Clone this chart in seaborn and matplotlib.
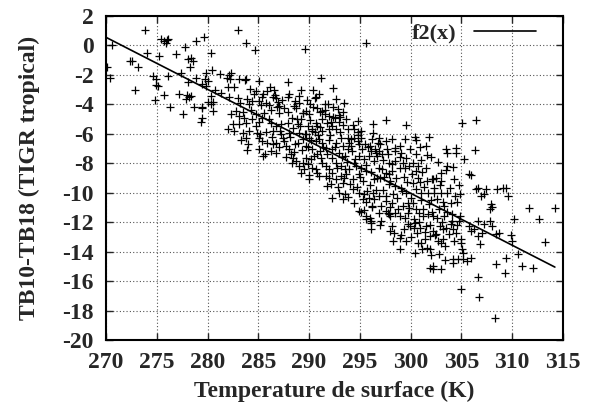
import matplotlib
matplotlib.use("Agg")
import matplotlib.pyplot as plt
import seaborn as sns
import pandas as pd

# ---- data ----
pts_left = [(273.87,1.03),(275.41,0.42),(275.7,0.3),(276.0,0.37),(276.1,0.42),(275.9,0.19),(278.9,0.30),(279.6,0.6),
    (270.56,0.0),(277.8,-0.1),(280.3,-0.49),(274.0,-0.49),(276.9,-0.56),(275.25,-0.74),(278.1,-0.9),(278.4,-0.83),
    (278.6,-1.05),(272.36,-1.05),(272.6,-1.08),(273.1,-1.44),(278.3,-1.44),(270.1,-1.46),(277.35,-1.85),(279.8,-1.85),
    (280.4,-1.69),(281.2,-1.96),(278.86,-2.19),(274.6,-2.07),(274.9,-2.25),(276.07,-2.07),(270.4,-2.19),(279.7,-2.25),
    (280.0,-2.41),(278.1,-2.46),(274.9,-2.68),(275.1,-2.75),(279.5,-2.64),(279.8,-2.75),(272.9,-3.02),(280.7,-3.02),
    (281.3,-3.2),(275.74,-3.34),(277.15,-3.3),(278.0,-3.39),(278.2,-3.48),(278.4,-3.43),(277.9,-3.61),(280.3,-3.43),
    (274.86,-3.73),(280.0,-3.84),(280.3,-3.95),(280.5,-3.84),(276.3,-4.15),(278.7,-4.15),(279.45,-4.15),(279.5,-4.27),
    (280.5,-4.45),(277.6,-4.65),(279.5,-4.92),(279.35,-5.2)]

pts_upper_mid = [(282.96,1.03),(283.78,0.19),(284.7,-0.33),(289.6,-0.26),(282.27,-1.85),(282.14,-2.03),(281.9,-2.19),
    (282.2,-2.3),(283.1,-2.3),(283.7,-2.34),(283.8,-2.25),(285.09,-2.41),(287.9,-2.48),(291.16,-2.19),(281.97,-2.82),
    (282.6,-2.82),(284.2,-2.93),(284.76,-3.09),(286.14,-2.8),(292.4,-2.87),(285.5,-3.32),(285.35,-3.48),(286.6,-3.39),
    (286.7,-3.54),(286.4,-3.5),(288.0,-3.32),(287.9,-3.48),(288.96,-3.43),(290.7,-3.5),(292.6,-3.66),(282.07,-3.48),
    (282.96,-3.54),(283.9,-3.66),(284.4,-3.77),(284.1,-4.0),(285.1,-3.77),(285.3,-4.06),(285.75,-3.88),(286.0,-4.04),
    (286.9,-3.84),(287.06,-4.11),(287.55,-4.27),(288.5,-4.11),(288.7,-4.22),(289.7,-4.45),(289.35,-4.56),(290.0,-4.68),
    (290.8,-4.22),(291.3,-4.45),(291.6,-4.68),(292.0,-4.79),(292.5,-4.9),(292.9,-4.74),(282.3,-4.68),(282.8,-4.45),
    (283.1,-4.79),(283.45,-4.52),(282.5,-5.35),(283.1,-5.35),(283.8,-5.29),(284.4,-5.0),(284.76,-4.68),(285.1,-5.2),
    (285.4,-4.9),(286.24,-5.24),(286.7,-5.47),(287.2,-5.35),(287.9,-5.24),(288.4,-5.58),(288.9,-5.35),(289.2,-5.0),
    (289.85,-5.47),(290.3,-5.7),(290.8,-5.47),(291.3,-5.8),(292.0,-5.7),(292.6,-5.65),(281.97,-5.69),(282.6,-5.8),
    (283.45,-5.92),(284.1,-5.8),(284.9,-5.92),(285.75,-5.88),(286.4,-5.8),(287.2,-6.03),(288.0,-5.92),(289.0,-5.92),
    (289.7,-6.03),(290.3,-5.8),(290.4,-4.16),(291.1,-4.49),(291.55,-4.38),(292.4,-4.83),(293.0,-4.83),(292.2,-5.17),
    (289.4,-4.61),(290.1,-5.06),(290.7,-5.29),(291.1,-5.51),(289.75,-3.7),(290.6,-3.59),(293.3,-5.4),(293.0,-5.9),
    (291.8,-5.3),(288.3,-4.9),(287.0,-4.6),(286.2,-4.4),(289.0,-3.9),(291.9,-3.95),(292.8,-4.3),(293.4,-3.9)]

pts_mid_low = [(283.3,-6.44),(283.8,-6.26),(285.1,-6.26),(285.4,-6.49),(285.9,-6.6),(286.4,-6.71),(286.7,-6.6),
    (283.85,-7.1),(285.1,-7.05),(285.7,-7.39),(286.7,-7.28),(287.7,-6.83),(288.0,-7.05),(288.2,-7.39),(288.5,-7.23),
    (288.4,-7.62),(288.7,-7.85),(289.2,-8.64),(289.35,-7.96),(289.85,-8.07),(289.7,-7.62),(290.2,-7.73),(290.3,-8.3),
    (290.7,-8.41),(290.8,-8.64),(291.0,-8.86),(289.95,-9.09),(291.3,-7.96),(291.65,-8.18),(292.0,-8.41),(292.3,-8.64),
    (291.65,-8.86),(291.8,-9.54),(292.15,-9.43),(292.6,-9.09),(293.1,-8.86),(293.3,-9.32),(292.96,-9.99),(293.5,-10.11),
    (292.3,-10.33),(293.3,-10.45),(289.35,-6.37),(290.0,-6.26),(290.7,-6.49),(291.3,-6.6),(291.65,-6.94),(292.3,-7.05),
    (292.96,-7.28),(293.5,-7.5),(291.0,-6.37),(292.0,-6.42),(292.6,-6.6),(293.3,-6.83),(292.3,-7.62),(292.6,-7.96),
    (293.1,-8.18),(293.5,-8.41),(288.9,-6.6),(289.7,-6.83),(290.3,-7.05),(290.8,-7.39),(291.2,-7.62),(289.5,-8.41),
    (287.4,-6.3),(287.0,-6.9)]

pts_center = [(293.8,-6.26),(294.1,-6.38),(294.4,-6.26),(294.8,-6.49),(295.1,-6.26),(294.9,-6.72),(294.1,-6.83),
    (293.8,-7.06),(296.2,-6.38),(296.9,-6.26),(297.56,-6.49),(298.2,-6.38),(299.4,-6.33),(300.5,-6.42),(301.5,-6.83),
    (303.5,-7.06),(303.6,-7.28),(305.3,-7.73),(296.1,-7.17),(296.6,-7.28),(296.9,-7.17),(297.2,-7.39),(296.7,-7.51),
    (296.4,-7.85),(298.5,-6.94),(299.0,-7.28),(299.5,-7.62),(299.2,-7.96),(298.5,-7.85),(294.9,-7.51),(295.4,-7.73),
    (294.4,-7.96),(293.95,-8.41),(293.6,-8.75),(295.1,-8.3),(295.6,-8.53),(294.9,-8.75),(294.3,-9.09),(296.9,-8.3),
    (297.2,-8.41),(297.56,-8.64),(297.9,-8.75),(296.7,-8.98),(296.4,-9.09),(297.9,-7.96),(298.2,-8.07),(298.9,-8.3),
    (299.85,-8.19),(300.2,-7.96),(300.5,-8.53),(301.5,-8.3),(302.2,-9.09),(302.5,-8.98),(303.0,-8.64),(304.3,-9.09),
    (298.5,-9.54),(299.0,-9.66),(299.5,-10.0),(300.2,-9.32),(300.5,-9.77),(300.0,-10.34),(301.0,-10.0),(301.7,-10.0),
    (302.3,-10.0),(303.0,-10.0),(303.6,-10.0),(304.4,-10.22),(304.9,-10.11),(294.3,-9.77),(294.9,-10.0),(295.4,-10.11),
    (295.9,-10.34),(296.4,-10.45),(296.9,-10.22),(297.56,-10.56),(298.2,-10.68),(298.7,-10.34),(299.7,-10.68),
    (300.4,-6.19),(300.9,-6.87),(301.8,-6.23),(301.56,-7.44),(304.5,-6.98),(304.5,-7.32),(304.2,-8.23),(303.5,-8.45),
    (300.7,-8.2),(302.06,-9.1),(295.8,-6.9),(297.7,-7.0),(295.3,-9.2),(296.0,-9.5),(297.3,-9.8),(298.0,-9.2),
    (299.3,-8.9),(300.9,-9.3),(301.3,-9.6),(302.9,-9.5),(303.9,-9.7),(302.0,-10.5),(303.2,-10.6),(304.6,-10.6),
    (295.6,-10.6),(294.6,-8.2),(297.0,-6.7),(298.9,-6.8),(301.0,-7.8),(302.7,-7.9)]

pts_lower = [(295.1,-11.31),(295.4,-11.19),(296.0,-11.69),(296.1,-12.03),(296.1,-12.44),(297.1,-11.92),(297.8,-11.35),
    (297.95,-11.58),(298.2,-12.26),(298.4,-12.71),(298.9,-13.84),(298.3,-13.28),(298.9,-13.05),(299.3,-12.48),
    (299.9,-12.26),(300.4,-12.03),(300.6,-12.71),(300.9,-12.37),(300.7,-13.39),(300.4,-14.07),(301.1,-13.84),
    (301.6,-13.73),(301.9,-13.8),(301.4,-13.16),(301.9,-12.94),(302.2,-12.6),(302.5,-12.82),(302.9,-12.26),
    (303.2,-12.48),(303.5,-12.37),(302.7,-13.28),(303.0,-13.39),(303.2,-13.16),(302.8,-14.18),(304.0,-12.14),
    (304.2,-12.48),(304.5,-12.71),(304.8,-11.92),(305.0,-13.16),(305.0,-13.39),(305.1,-13.84),(305.2,-14.07),
    (301.9,-15.09),(302.2,-14.97),(302.2,-15.2),(303.0,-15.15),(304.2,-14.52),(304.2,-14.75),(304.7,-14.52),
    (305.2,-14.52),(305.0,-16.56),(294.9,-11.24),(295.6,-11.58),(296.2,-10.9),(296.9,-11.35),(297.56,-11.24),
    (297.9,-11.47),(298.5,-11.35),(298.9,-11.58),(299.4,-11.69),(299.85,-11.02),(300.5,-11.13),(300.8,-11.35),
    (301.2,-11.58),(301.7,-11.47),(302.2,-11.58),(302.6,-11.69),(303.3,-11.58),(304.1,-11.47),(304.9,-11.58),
    (295.6,-11.81),(296.1,-11.92),(299.7,-12.15),(300.35,-12.37),(301.5,-12.26)]

pts_right = [(306.35,-7.1),(305.76,-8.75),(305.9,-8.82),(306.4,-9.77),(306.6,-9.7),(306.9,-10.22),(307.2,-10.11),
    (307.4,-9.77),(308.5,-9.77),(309.1,-9.65),(309.4,-9.65),(309.6,-10.22),(307.9,-10.79),(308.0,-10.94),(307.8,-11.13),
    (311.66,-11.01),(314.2,-11.04),(312.6,-11.8),(310.2,-11.8),(306.6,-11.92),(305.76,-12.26),(305.9,-12.6),
    (306.25,-12.48),(307.2,-12.14),(307.07,-12.71),(307.8,-11.92),(308.0,-12.26),(308.4,-12.82),(308.7,-12.76),
    (306.6,-12.94),(306.8,-13.5),(309.86,-12.87),(310.0,-13.28),(313.2,-13.34),(310.6,-14.18),(309.4,-14.41),
    (308.4,-14.86),(311.0,-14.97),(312.0,-15.13),(309.3,-15.42),(305.5,-14.63),(305.9,-14.41),(306.6,-15.7),
    (306.7,-17.08),(308.3,-18.5),(306.4,-5.06)]

pts_upper_right = [(295.65,0.19),(294.77,-5.13),(296.25,-5.31),(297.56,-5.06),(299.5,-5.38),(305.1,-5.29),
    (293.8,-5.69),(294.4,-5.69),(294.8,-5.88),(295.1,-5.8),(296.25,-5.92)]

# extra points estimated in the densest part of the cloud
pts_core_a = [(284.3,-4.4),(284.8,-5.5),(285.2,-6.0),(285.6,-4.6),(286.0,-5.0),(286.3,-6.2),(286.8,-4.2),(287.1,-5.8),
    (287.5,-6.5),(284.6,-3.3),(285.9,-3.1),(286.5,-3.0),(287.3,-3.7),(283.6,-4.9),(283.2,-3.9),(284.0,-6.7),
    (285.5,-7.5),(286.2,-7.2),(287.7,-7.6),(287.9,-4.5),(288.1,-6.2),(288.6,-6.7),(288.8,-5.0),(289.1,-5.5),
    (289.3,-7.1),(289.6,-6.0),(289.9,-6.9),(290.1,-4.0),(290.2,-6.4),(290.5,-7.5),(290.6,-5.9),(290.9,-6.1),
    (291.1,-7.2),(291.3,-5.0),(291.4,-6.9),(290.0,-8.8),(289.0,-8.2),(288.3,-8.0),(291.6,-4.0),(291.8,-7.4),
    (288.6,-3.8),(289.2,-3.0),(290.4,-3.0),(291.0,-3.3)]

pts_core_b = [(292.1,-6.1),(292.3,-5.5),(292.5,-6.9),(292.7,-8.3),(292.9,-5.2),(293.1,-6.3),(293.2,-7.6),(293.4,-9.0),
    (293.6,-5.0),(293.7,-7.9),(293.9,-6.6),(294.0,-9.4),(294.2,-7.2),(294.3,-5.4),(294.5,-7.7),(294.7,-9.6),
    (294.8,-6.1),(295.0,-8.9),(295.2,-7.0),(295.3,-10.4),(295.5,-6.7),(295.6,-8.1),(295.7,-9.9),(295.9,-7.5),
    (292.0,-9.0),(292.8,-9.6),(293.8,-10.3),(294.4,-10.7),(292.4,-4.2),(293.3,-4.5),
    (296.0,-6.8),(296.1,-8.6),(296.3,-10.0),(296.5,-7.0),(296.6,-9.8),(296.8,-6.6),(297.0,-9.0),(297.1,-10.9),
    (297.3,-7.8),(297.4,-8.9),(297.6,-10.2),(297.8,-7.4),(297.9,-9.4),(298.0,-11.0),(298.2,-8.5),(298.3,-10.1),
    (298.5,-7.2),(298.6,-9.0),(298.8,-11.1),(298.9,-7.6),(299.1,-9.9),(299.2,-10.9),(299.4,-8.3),(299.6,-9.3),
    (299.7,-11.4),(299.9,-7.0),(296.2,-11.0),(297.0,-12.2),(298.0,-12.6),(299.0,-12.9),(299.5,-13.3)]

pts_core_c = [(300.1,-8.7),(300.2,-10.7),(300.3,-11.8),(300.5,-7.4),(300.7,-9.0),(300.8,-12.0),(301.0,-10.5),
    (301.1,-8.6),(301.2,-11.1),(301.4,-12.7),(301.6,-9.2),(301.8,-10.8),(301.9,-12.2),(302.0,-7.6),(302.1,-11.3),
    (302.3,-9.7),(302.4,-12.9),(302.6,-10.4),(302.8,-11.1),(303.0,-9.2),(303.1,-12.0),(303.3,-10.9),(303.4,-13.6),
    (303.6,-11.3),(303.8,-12.8),(304.0,-10.7),(304.1,-11.9),(304.3,-13.3),(304.6,-12.2),(304.8,-9.5),(300.0,-13.0),
    (301.0,-13.4),(302.0,-14.2),(303.4,-14.6),(303.6,-8.2)]

# fitted function f2(x), endpoints
line_x = [270.0, 314.2]
line_y = [0.55, -15.05]

x_ticks = [270, 275, 280, 285, 290, 295, 300, 305, 310, 315]
y_ticks = [2, 0, -2, -4, -6, -8, -10, -12, -14, -16, -18, -20]

all_pts = (pts_left + pts_upper_mid + pts_mid_low + pts_center + pts_lower
           + pts_right + pts_upper_right + pts_core_a + pts_core_b + pts_core_c)
df = pd.DataFrame(all_pts, columns=["T", "D"])

sns.set_theme(style="ticks")
plt.rcParams['font.family'] = ['Liberation Serif', 'DejaVu Serif']
plt.rcParams['font.weight'] = 'bold'

fig = plt.figure(figsize=(5.94, 4.12), dpi=100)
ax = fig.add_axes([0.1785, 0.1748, 0.7693, 0.7864])

sns.scatterplot(data=df, x="T", y="D", marker="+", s=30, color="black",
                linewidth=0.9, ax=ax, legend=False, zorder=3)
sns.lineplot(x=line_x, y=line_y, color="black", linewidth=1.2, ax=ax,
             label="f2(x)", zorder=4)

ax.set_xlim(270, 315)
ax.set_ylim(-20, 2)
ax.set_xticks(x_ticks)
ax.set_yticks(y_ticks)
ax.set_xticklabels([str(v) for v in x_ticks])
ax.set_yticklabels([str(v) for v in y_ticks])
ax.grid(True, linestyle=(0, (1, 2)), color="#555555", linewidth=0.8)
ax.tick_params(direction="in", length=5, width=1, top=True, right=True,
               labelsize=17)
ax.tick_params(axis="x", pad=9)
ax.tick_params(axis="y", pad=9)
for lab in ax.get_xticklabels() + ax.get_yticklabels():
    lab.set_fontweight("bold")
for sp in ax.spines.values():
    sp.set_linewidth(1.5)
    sp.set_color("black")
    sp.set_zorder(5)

ax.set_xlabel("Temperature de surface (K)", fontsize=17, fontweight="bold", labelpad=5)
ax.set_ylabel("TB10-TB18 (TIGR tropical)", fontsize=17, fontweight="bold", labelpad=16)

leg = ax.legend(loc="upper right", frameon=False, markerfirst=False, handlelength=2.8,
                prop={"size": 16, "weight": "bold"}, bbox_to_anchor=(0.97, 1.02),
                borderaxespad=0.2)

fig.savefig("out.png", dpi=100, facecolor="white")
